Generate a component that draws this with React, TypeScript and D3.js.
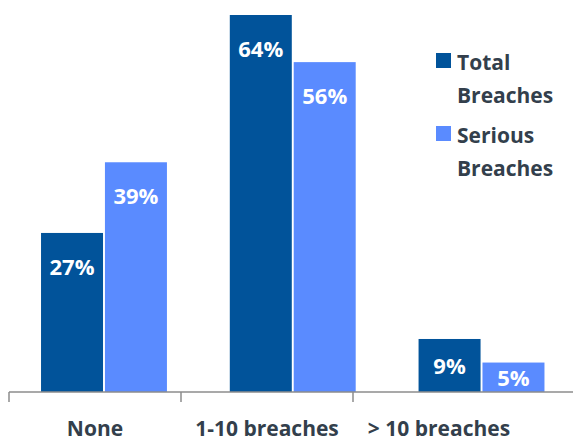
import React from "react";
import * as d3 from "d3";

const categories = ["None", "1-10 breaches", "> 10 breaches"];
const seriesNames = ["Total Breaches", "Serious Breaches"];
const totalValues = [27, 64, 9];
const seriousValues = [39, 56, 5];
const legendLines = [["Total", "Breaches"], ["Serious", "Breaches"]];

const W = 573;
const H = 440;
const colors = ["#01539a", "#5a8bff"];
const textColor = "#333f4c";
const font = "'Open Sans', 'Noto Sans', sans-serif";

export default function App() {
  const y = d3.scaleLinear().domain([0, 64]).range([392, 15]);
  const x0 = d3
    .scaleBand<string>()
    .domain(categories)
    .range([9.6, 575.9])
    .paddingInner(0.333)
    .paddingOuter(0.1665);
  const x1 = d3
    .scaleBand<string>()
    .domain(seriesNames)
    .range([0, x0.bandwidth()])
    .paddingInner(0.03);
  const xAxis = d3.scaleBand<string>().domain(categories).range([9, 525]);
  const series = [totalValues, seriousValues];
  const base = y(0);

  return (
    <svg width={W} height={H} style={{ position: "absolute", left: 0, top: 0 }} fontFamily={font}>
      <rect width={W} height={H} fill="#ffffff" />
      {categories.map((c, ci) =>
        seriesNames.map((s, si) => {
          const v = series[si][ci];
          const top = y(v);
          const bx = (x0(c) as number) + (x1(s) as number);
          const bw = x1.bandwidth();
          const cy = Math.min(top + 33.5, (top + base) / 2);
          return (
            <g key={c + s}>
              <rect x={bx} y={top} width={bw} height={base - top} fill={colors[si]} />
              <text
                x={bx + bw / 2}
                y={cy + 8.5}
                textAnchor="middle"
                fill="#ffffff"
                fontWeight="bold"
                fontSize={22}
              >
                {v}%
              </text>
            </g>
          );
        })
      )}
      <line x1={9} x2={W} y1={base} y2={base} stroke="#8c8c8c" strokeWidth={1.5} />
      {categories.map((c) => (
        <line
          key={"t" + c}
          x1={xAxis(c) as number}
          x2={xAxis(c) as number}
          y1={base}
          y2={402}
          stroke="#8c8c8c"
          strokeWidth={1.5}
        />
      ))}
      {categories.map((c) => (
        <text
          key={"l" + c}
          x={(xAxis(c) as number) + xAxis.bandwidth() / 2}
          y={436}
          textAnchor="middle"
          fill={textColor}
          fontWeight="bold"
          fontSize={21}
        >
          {c}
        </text>
      ))}
      {seriesNames.map((s, i) => (
        <g key={"lg" + s} transform={`translate(436, ${53 + i * 73})`}>
          <rect x={0} y={0} width={15} height={15} fill={colors[i]} />
          {legendLines[i].map((ln, li) => (
            <text
              key={li}
              x={21}
              y={17 + li * 33}
              fill={textColor}
              fontWeight="bold"
              fontSize={21}
            >
              {ln}
            </text>
          ))}
        </g>
      ))}
    </svg>
  );
}
